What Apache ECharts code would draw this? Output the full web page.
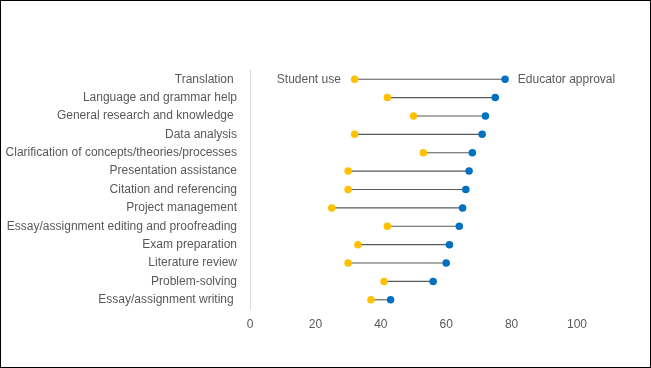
<!DOCTYPE html>
<html>
<head>
<meta charset="utf-8">
<script src="https://cdn.jsdelivr.net/npm/echarts@6/dist/echarts.min.js"></script>
<style>
html,body{margin:0;padding:0;background:#fff;}
#chart{width:651px;height:368px;box-sizing:border-box;border:1px solid #000;}
</style>
</head>
<body>
<div id="chart"></div>
<script>
const categories = [
  "Translation ",
  "Language and grammar help",
  "General research and knowledge ",
  "Data analysis",
  "Clarification of concepts/theories/processes",
  "Presentation assistance",
  "Citation and referencing",
  "Project management",
  "Essay/assignment editing and proofreading",
  "Exam preparation",
  "Literature review",
  "Problem-solving",
  "Essay/assignment writing "
];
const studentUse =        [32, 42, 50, 32, 53, 30, 30, 25, 42, 33, 30, 41, 37];
const educatorApproval =  [78, 75, 72, 71, 68, 67, 66, 65, 64, 61, 60, 56, 43];
const xTicks = [0, 20, 40, 60, 80, 100];
const seriesNames = ["Student use", "Educator approval"];

const chart = echarts.init(document.getElementById('chart'), null, {renderer: 'canvas'});
const font = "'Liberation Sans', Arial, sans-serif";
const grey = '#595959';

const lineData = categories.map((c, i) => [i, studentUse[i], educatorApproval[i]]);

chart.setOption({
  animation: false,
  grid: {left: 249, right: 73, top: 69, bottom: 58, containLabel: false},
  xAxis: {
    type: 'value', min: xTicks[0], max: xTicks[xTicks.length - 1], interval: 20,
    axisLine: {show: false}, axisTick: {show: false}, splitLine: {show: false},
    axisLabel: {color: grey, fontFamily: font, fontSize: 12, margin: 10}
  },
  yAxis: {
    type: 'category', data: categories, inverse: true,
    axisLine: {show: true, lineStyle: {color: '#D9D9D9', width: 1}},
    axisTick: {show: false},
    axisLabel: {color: grey, fontFamily: font, fontSize: 12, margin: 13}
  },
  series: [
    {
      type: 'custom',
      data: lineData,
      encode: {x: [1, 2], y: 0},
      renderItem: function (params, api) {
        const a = api.coord([api.value(1), api.value(0)]);
        const b = api.coord([api.value(2), api.value(0)]);
        return {
          type: 'line',
          shape: {x1: a[0], y1: a[1], x2: b[0], y2: b[1]},
          style: {stroke: grey, lineWidth: 1.1}
        };
      },
      z: 1
    },
    {
      name: seriesNames[0], type: 'scatter', symbol: 'circle', symbolSize: 7.5,
      itemStyle: {color: '#FFC000', opacity: 1},
      data: studentUse.map((v, i) => ({
        value: [v, i],
        label: i === 0 ? {show: true, position: 'left', distance: 10, formatter: seriesNames[0],
          color: grey, fontFamily: font, fontSize: 12} : {show: false}
      })),
      z: 3
    },
    {
      name: seriesNames[1], type: 'scatter', symbol: 'circle', symbolSize: 7.5,
      itemStyle: {color: '#0070C0', opacity: 1},
      data: educatorApproval.map((v, i) => ({
        value: [v, i],
        label: i === 0 ? {show: true, position: 'right', distance: 9, formatter: seriesNames[1],
          color: grey, fontFamily: font, fontSize: 12} : {show: false}
      })),
      z: 3
    }
  ]
});
</script>
</body>
</html>
